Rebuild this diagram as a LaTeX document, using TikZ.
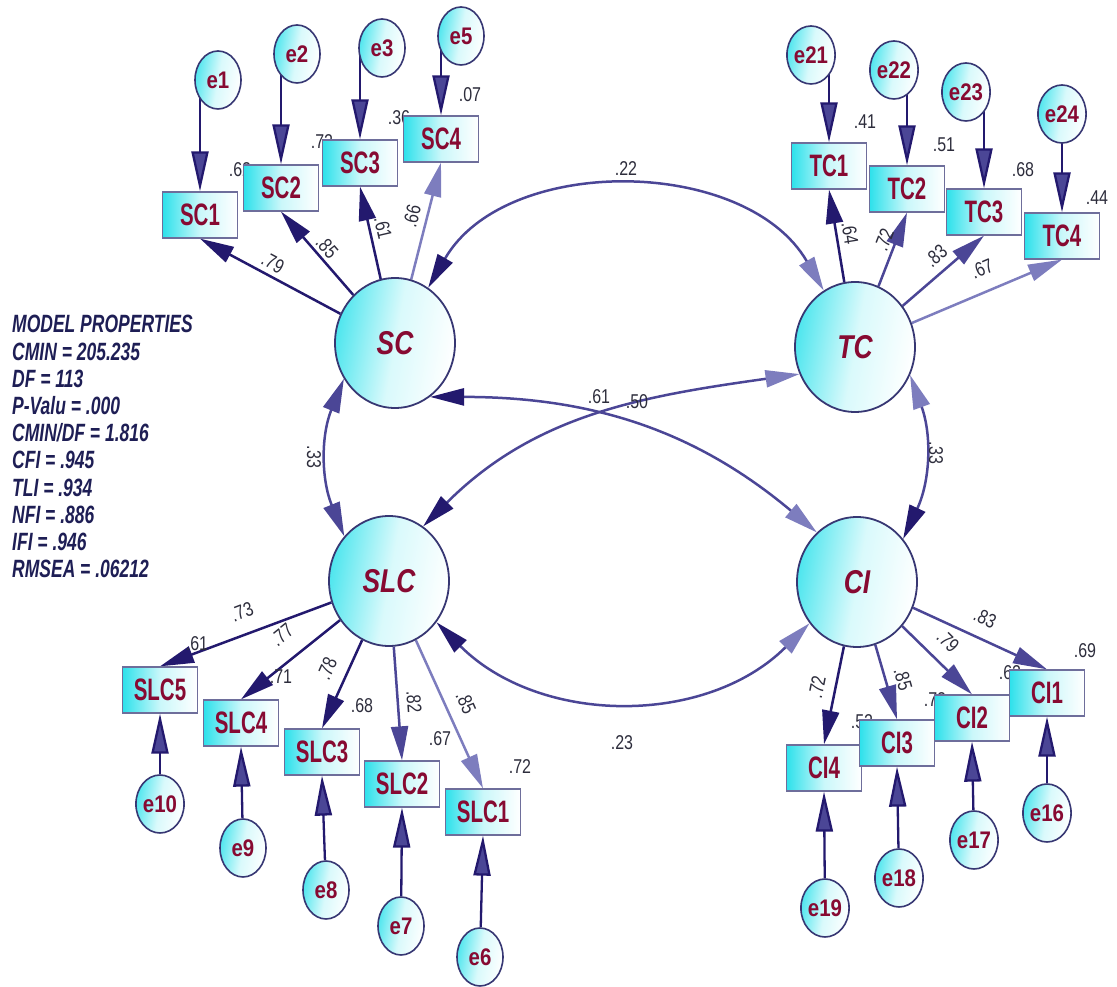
\documentclass[tikz,border=0pt]{standalone}
\usepackage{fontspec}
\setmainfont{Liberation Sans}
\newfontfamily\obsfont[FakeStretch=0.66]{Liberation Sans}
\newfontfamily\errfont[FakeStretch=0.85]{Liberation Sans}
\newfontfamily\latfont[FakeStretch=0.8]{Liberation Sans}
\newfontfamily\numfont[FakeStretch=0.8]{Liberation Sans}
\newfontfamily\propfont[FakeStretch=0.7]{Liberation Sans}
\usetikzlibrary{shapes.geometric,arrows.meta,backgrounds}

\definecolor{labred}{RGB}{135,10,50}
\definecolor{aqua}{RGB}{45,225,235}
\definecolor{darkpath}{RGB}{35,25,110}
\definecolor{midpath}{RGB}{75,70,150}
\definecolor{lightpath}{RGB}{125,125,190}
\definecolor{boxedge}{RGB}{110,110,155}
\definecolor{ringedge}{RGB}{55,55,115}
\definecolor{numgray}{RGB}{45,45,60}
\definecolor{propnavy}{RGB}{30,30,85}

\tikzset{
  latent/.style={ellipse, minimum width=120pt, minimum height=130pt, inner sep=0pt,
    draw=ringedge, line width=1.8pt, left color=aqua!85, right color=white, middle color=aqua!18,
    shading angle=80, text=labred, font=\latfont\bfseries\itshape\fontsize{33}{34}\selectfont},
  errc/.style={ellipse, minimum width=46pt, minimum height=58pt, inner sep=0pt,
    draw=ringedge, line width=1.6pt, left color=aqua!85, right color=white, middle color=aqua!18,
    shading angle=80, text=labred, font=\errfont\bfseries\fontsize{24}{24}\selectfont},
  obsbox/.style={rectangle, minimum width=75pt, minimum height=46pt, inner sep=0pt,
    draw=boxedge, line width=1.3pt, left color=aqua, right color=white, middle color=aqua!25,
    text=labred, font=\obsfont\bfseries\fontsize{31}{31}\selectfont},
  numlbl/.style={inner sep=0pt, text=numgray, font=\numfont\fontsize{20}{20}\selectfont},
  proptext/.style={inner sep=0pt, text=propnavy, font=\propfont\bfseries\itshape\fontsize{25}{25}\selectfont},
  errarrow/.style={line width=2.3pt, draw=darkpath, -{Triangle[length=40pt, width=17pt, fill=midpath]}},
  loadarrow/.style={line width=2.5pt, -{Triangle[length=34pt, width=17pt]}},
  covarrow/.style 2 args={line width=2.5pt, draw=midpath,
    {Triangle[length=34pt, width=17pt, color=#1]}-{Triangle[length=34pt, width=17pt, color=#2]}}
}

\begin{document}
\begin{tikzpicture}[x=1pt, y=1pt]
  \useasboundingbox (0,0) rectangle (1117,986);

  % squared multiple correlations, partly under the boxes
  \foreach \x/\y/\v [count=\i] in {240/816/.62, 322/844/.72, 399/868/.36, 470/891/.07,
      865/864/.41, 944/841/.51, 1023/816/.68, 1097/788/.44,
      197/342/.61, 281/309/.71, 362/280/.68, 440/247/.67, 520/219/.72,
      1085/335/.69, 1010/313/.62, 935/286/.72, 862/264/.52}
    \node[numlbl] (rsq\i) at (\x,\y) {\v};

  % observed variables
  \foreach \name/\x/\y in {SC1/200/771, SC2/281/798, SC3/360/823, SC4/441/847,
      TC1/829/820, TC2/907/797, TC3/984/774, TC4/1062/750,
      SLC5/160/296, SLC4/241/263, SLC3/322/234, SLC2/402/202, SLC1/483/174,
      CI4/824/218, CI3/897/243, CI2/972/268, CI1/1047/293}
    \node[obsbox] (\name) at (\x,\y) {\name};

  % error terms
  \foreach \name/\x/\y in {e1/218/906, e2/297/932, e3/382/938, e5/461/950,
      e21/811/931, e22/894/916, e23/966/894, e24/1062/872,
      e10/160/182, e9/243/138, e8/326/96, e7/401/60, e6/480/29,
      e19/825/78, e18/899/108, e17/974/146, e16/1047/173}
    \node[errc] (\name) at (\x,\y) {\name};

  % latent factors
  \node[latent] (SC) at (395,643) {SC};
  \node[latent] (TC) at (855,639) {TC};
  \node[latent] (SLC) at (389,405) {SLC};
  \node[latent] (CI) at (857,404) {CI};

  \begin{pgfonlayer}{background}
    \foreach \e/\b in {e1/SC1, e2/SC2, e3/SC3, e5/SC4, e21/TC1, e22/TC2, e23/TC3, e24/TC4}
      \draw[errarrow] (\b |- \e) -- (\b.north);
    \foreach \e/\b in {e10/SLC5, e9/SLC4, e8/SLC3, e7/SLC2, e6/SLC1,
        e19/CI4, e18/CI3, e17/CI2, e16/CI1}
      \draw[errarrow] (\e) -- (\b.south);

    % loadings
    \foreach \f/\b/\c in {SC/SC1/darkpath, SC/SC2/darkpath, SC/SC3/darkpath, SC/SC4/lightpath,
        TC/TC1/darkpath, TC/TC2/midpath, TC/TC3/midpath, TC/TC4/lightpath}
      \draw[loadarrow, color=\c] (\f) -- (\b.south);
    \foreach \f/\b/\c in {SLC/SLC5/darkpath, SLC/SLC4/darkpath, SLC/SLC3/darkpath,
        SLC/SLC2/midpath, SLC/SLC1/lightpath,
        CI/CI4/darkpath, CI/CI3/midpath, CI/CI2/midpath, CI/CI1/midpath}
      \draw[loadarrow, color=\c] (\f) -- (\b.north);

    % covariances
    \draw[covarrow={darkpath}{lightpath}] (SC.59) to[out=60, in=120] (TC.119);
    \draw[covarrow={midpath}{midpath}] (SC.215) to[out=248, in=112] (SLC.135);
    \draw[covarrow={lightpath}{darkpath}] (TC.-27) to[out=-70, in=65] (CI.43);
    \draw[covarrow={darkpath}{lightpath}] (SC.-57) to[out=0, in=140] (CI.129);
    \draw[covarrow={darkpath}{lightpath}] (SLC.58) to[out=45, in=188] (TC.206);
    \draw[covarrow={darkpath}{lightpath}] (SLC.-41) to[out=-45, in=225] (CI.221);
  \end{pgfonlayer}

  % loading values
  \foreach \x/\y/\r/\v [count=\i] in {273/723/-28/.79, 327/739/-49/.85, 383/758/-77/.61, 412/770/76/.66,
      850/753/-81/.64, 884/746/69/.72, 936/730/41/.83, 982/717/23/.67,
      242/374/21/.73, 282/351/39/.77, 327/317/66/.78, 414/284/-86/.82, 466/283/-66/.85,
      985/368/-25/.83, 948/345/-45/.79, 903/307/-74/.85, 817/299/79/.72}
    \node[numlbl, rotate=\r] (ld\i) at (\x,\y) {\v};

  % covariance values
  \node[numlbl] (cv1) at (626,817) {.22};
  \node[numlbl, rotate=-90] (cv2) at (314,529) {.33};
  \node[numlbl, rotate=-90] (cv3) at (936,533) {.33};
  \node[numlbl] (cv4) at (599,589) {.61};
  \node[numlbl] (cv5) at (637,584) {.50};
  \node[numlbl] (cv6) at (622,243) {.23};

  % fit indices
  \foreach \t [count=\i] in {MODEL PROPERTIES, CMIN = 205.235, DF = 113, P-Valu = .000,
      CMIN/DF = 1.816, CFI = .945, TLI = .934, NFI = .886, IFI = .946, RMSEA = .06212}
    \node[proptext, anchor=base west] (prop\i) at (12, {653-27.2*(\i-1)}) {\t};
\end{tikzpicture}
\end{document}
